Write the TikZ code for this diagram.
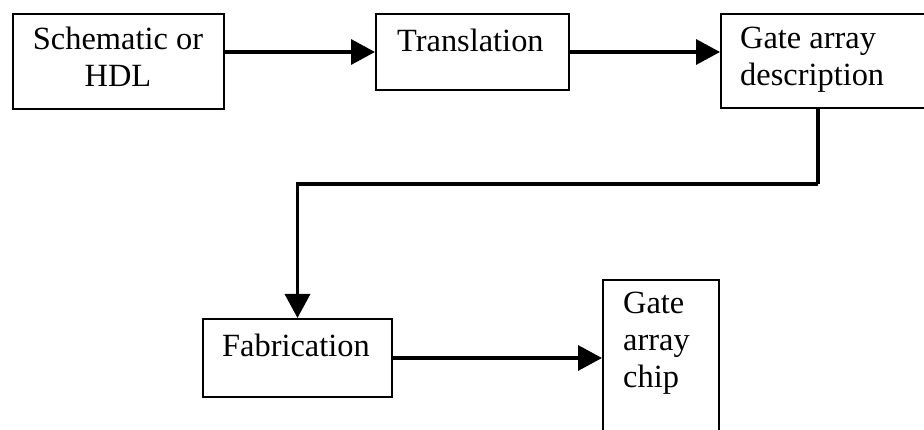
\documentclass[tikz,border=0pt]{standalone}
\usepackage{fontspec}
\setmainfont{Liberation Serif}
\usetikzlibrary{arrows.meta}
\tikzset{
  box/.style={draw=black, line width=2pt, rectangle, inner sep=0pt, anchor=north west},
  txt/.style={inner sep=0pt, font=\fontsize{32.4}{37}\selectfont},
  flow/.style={draw=black, line width=3.4pt, -{Triangle[length=24pt,width=25pt]}},
  wire/.style={draw=black, line width=3.4pt}
}
\begin{document}
\begin{tikzpicture}[x=1pt,y=-1pt]
\useasboundingbox (0,0) rectangle (924,430);
\fill[white] (0,0) rectangle (924,430);
\clip (0,0) rectangle (924,430);
% boxes
\node[box, minimum width=211pt, minimum height=95pt] (b1) at (12,13) {};
\node[box, minimum width=193pt, minimum height=76pt] (b2) at (375,13) {};
\node[box, minimum width=230pt, minimum height=94pt] (b3) at (720,13) {};
\node[box, minimum width=189pt, minimum height=78pt] (b4) at (202,318) {};
\node[box, minimum width=116pt, minimum height=180pt] (b5) at (602,279) {};
% texts
\node[txt, anchor=base] (t1) at (118,50) {\begin{tabular}[t]{@{}c@{}}Schematic or\\HDL\end{tabular}};
\node[txt, anchor=base west] (t2) at (397,52) {Translation};
\node[txt, anchor=base west] (t3) at (740,49) {\begin{tabular}[t]{@{}l@{}}Gate array\\description\end{tabular}};
\node[txt, anchor=base west] (t4) at (222,356) {Fabrication};
\node[txt, anchor=base west] (t5) at (623,314) {\begin{tabular}[t]{@{}l@{}}Gate\\array\\chip\end{tabular}};
% connectors
\coordinate (c1) at (818,184);
\draw[flow] (b1.east |- b2.west) -- (b2.west);
\draw[flow] (b2.east) -- (b2.east -| b3.west);
\draw[wire] (b3.south -| c1) -- (c1);
\draw[flow] (c1) -| (b4.north);
\draw[flow] (b4.east) -- (b4.east -| b5.west);
\end{tikzpicture}
\end{document}
